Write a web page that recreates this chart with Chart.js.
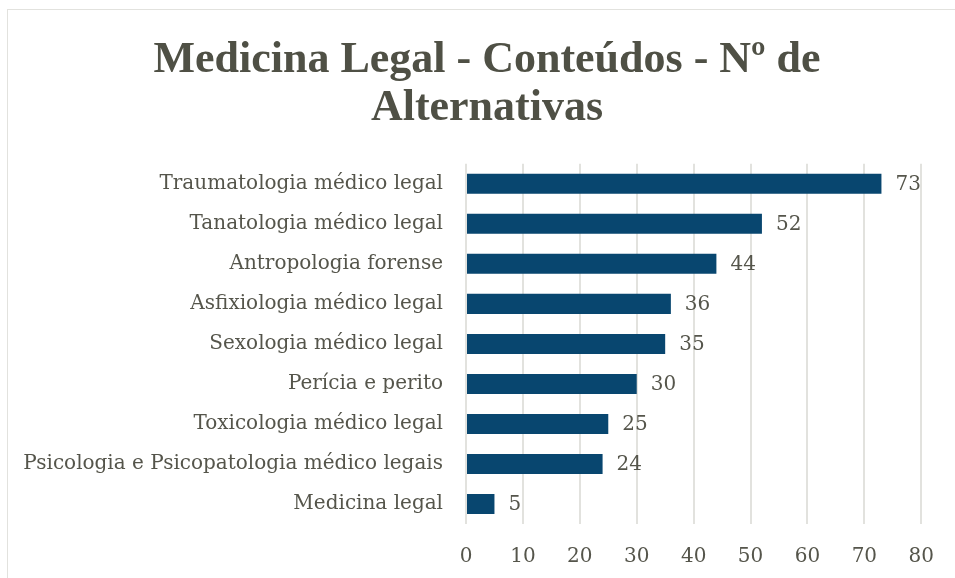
<!DOCTYPE html>
<html>
<head>
<meta charset="utf-8">
<script src="https://cdn.jsdelivr.net/npm/chart.js@4"></script>
<style>
  html, body { margin: 0; padding: 0; background: #fff; overflow: hidden; }
  #frame {
    position: absolute; left: 7px; top: 9px; width: 948px; height: 569px;
    border-left: 1px solid #e2e2de; border-top: 1px solid #e2e2de;
  }
  canvas { display: block; }
</style>
</head>
<body>
<div id="frame"><canvas id="barChart" width="947" height="568"></canvas></div>
<script>
const categories = [
  "Traumatologia médico legal",
  "Tanatologia médico legal",
  "Antropologia forense",
  "Asfixiologia médico legal",
  "Sexologia médico legal",
  "Perícia e perito",
  "Toxicologia médico legal",
  "Psicologia e Psicopatologia médico legais",
  "Medicina legal"
];
const values = [73, 52, 44, 36, 35, 30, 25, 24, 5];
const titleLines = ["Medicina Legal - Conteúdos - Nº de", "Alternativas"];

const textColor = "#55554b";
const serif = "'Liberation Serif', serif";
const labelFont = "'DejaVu Serif', serif";

// draws the value next to each bar
const valueLabels = {
  id: "valueLabels",
  afterLayout(chart) {
    // title sits a bit right of the canvas centre in the original
    if (chart.titleBlock) chart.titleBlock.left += 32;
  },
  afterDatasetsDraw(chart) {
    const ctx = chart.ctx;
    const meta = chart.getDatasetMeta(0);
    ctx.save();
    ctx.font = "20px " + labelFont;
    ctx.fillStyle = textColor;
    ctx.textAlign = "left";
    ctx.textBaseline = "middle";
    meta.data.forEach((bar, i) => {
      ctx.fillText(values[i], bar.x + 14, bar.y + 1);
    });
    ctx.restore();
  }
};

const ctx = document.getElementById("barChart");
const myChart = new Chart(ctx, {
  type: "bar",
  data: {
    labels: categories,
    datasets: [
      {
        data: values,
        backgroundColor: "#08466f",
        borderWidth: 0,
        barPercentage: 0.5,
        categoryPercentage: 1.0,
      },
    ],
  },
  options: {
    indexAxis: "y",
    responsive: false,
    animation: false,
    layout: { padding: { left: 0, right: 21, top: 0, bottom: 0 } },
    plugins: {
      legend: { display: false },
      tooltip: { enabled: false },
      title: {
        display: true,
        text: titleLines,
        color: "#4f5045",
        font: { family: serif, size: 44, weight: "bold", lineHeight: 1.1 },
        padding: { top: 26, bottom: 31 },
      },
    },
    scales: {
      x: {
        min: 0,
        max: 80,
        ticks: { stepSize: 10, color: textColor, font: { family: labelFont, size: 20 }, padding: 21 },
        grid: { color: "#e2e2de", lineWidth: 2, drawTicks: false },
        border: { display: false },
        afterFit(scale) { scale.height = 54; },
      },
      y: {
        ticks: { color: textColor, font: { family: labelFont, size: 20 }, padding: 23 },
        grid: { display: false, drawTicks: false },
        border: { display: false },
        afterFit(scale) { scale.width = 458; },
      },
    },
  },
  plugins: [valueLabels],
});
</script>
</body>
</html>
